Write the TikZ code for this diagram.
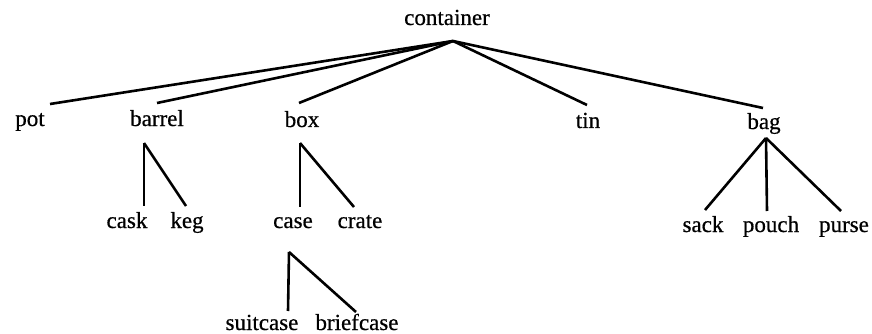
\documentclass[tikz,border=0pt]{standalone}
\usepackage{fontspec}
\setmainfont{Liberation Serif}
\newfontface\lblfont{Liberation Serif}[FakeBold=0.6]
\begin{document}
\begin{tikzpicture}[x=1pt,y=-1pt,
  lbl/.style={anchor=base,inner sep=0pt,font=\lblfont\fontsize{23}{23}\selectfont},
  branch/.style={line width=2.6pt,line cap=butt,line join=miter}]
\useasboundingbox (0,0) rectangle (872,334);
% labels
\node[lbl] (container) at (447,25) {container};
\node[lbl] (pot) at (30,126) {pot};
\node[lbl] (barrel) at (157,126) {barrel};
\node[lbl] (box) at (302,127) {box};
\node[lbl] (tin) at (588,128) {tin};
\node[lbl] (bag) at (764,129) {bag};
\node[lbl] (cask) at (127,228) {cask};
\node[lbl] (keg) at (187,228) {keg};
\node[lbl] (case) at (293,228) {case};
\node[lbl] (crate) at (360,228) {crate};
\node[lbl] (sack) at (703,232) {sack};
\node[lbl] (pouch) at (771,232) {pouch};
\node[lbl] (purse) at (844,232) {purse};
\node[lbl] (suitcase) at (262,330) {suitcase};
\node[lbl] (briefcase) at (357,330) {briefcase};
% connector end points
\coordinate (container-a) at (453,41);
\coordinate (pot-t) at (50,104);
\coordinate (barrel-t) at (157,103);
\coordinate (box-t) at (299,103);
\coordinate (tin-t) at (587,105);
\coordinate (bag-t) at (763,108);
\coordinate (barrel-a) at (144,143);
\coordinate (cask-t) at (144,206);
\coordinate (keg-t) at (186,206);
\coordinate (box-a) at (300,143);
\coordinate (case-t) at (300,207);
\coordinate (crate-t) at (354,207);
\coordinate (case-a) at (289,252);
\coordinate (suitcase-t) at (288,311);
\coordinate (briefcase-t) at (356,312);
\coordinate (bag-a) at (766,138);
\coordinate (sack-t) at (705,210);
\coordinate (pouch-t) at (767,211);
\coordinate (purse-t) at (841,211);
% connectors
\foreach \c in {pot,barrel,box,tin,bag} \draw[branch] (container-a) -- (\c-t);
\foreach \c in {cask,keg} \draw[branch] (barrel-a) -- (\c-t);
\foreach \c in {case,crate} \draw[branch] (box-a) -- (\c-t);
\foreach \c in {suitcase,briefcase} \draw[branch] (case-a) -- (\c-t);
\foreach \c in {sack,pouch,purse} \draw[branch] (bag-a) -- (\c-t);
\end{tikzpicture}
\end{document}
